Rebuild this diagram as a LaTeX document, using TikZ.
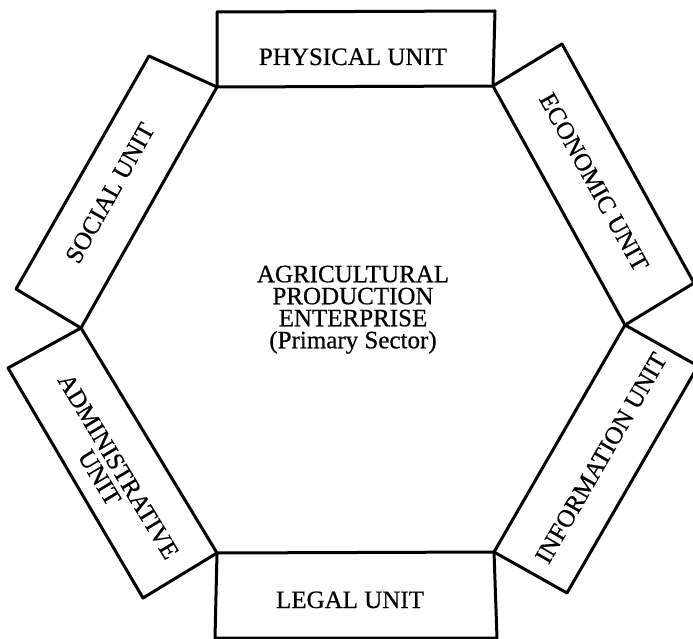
\documentclass[tikz,border=0pt]{standalone}
\usepackage{fontspec}
\setmainfont{Liberation Serif}[FakeBold=0.6]
\begin{document}
\begin{tikzpicture}[x=1pt, y=-1pt,
  frame/.style={draw, line width=3pt, line join=round},
  lbl/.style={font=\fontsize{25}{22}\selectfont, inner sep=0pt, align=center}]
\useasboundingbox (0,0) rectangle (693,639);
\clip (0,0) rectangle (693,639);

% corners of the central hexagon
\coordinate (A) at (217,87);   % top left
\coordinate (B) at (493,86);   % top right
\coordinate (C) at (625,325);  % right
\coordinate (D) at (494,552);  % bottom right
\coordinate (E) at (217,553);  % bottom left
\coordinate (F) at (81,328);   % left

% outer corners of the six unit boxes
\coordinate (phyL) at (217,12);  \coordinate (phyR) at (495,11);
\coordinate (ecoT) at (562,44);  \coordinate (ecoB) at (694,283);
\coordinate (infT) at (698,366); \coordinate (infB) at (567,593);
\coordinate (legR) at (497,638); \coordinate (legL) at (215,638);
\coordinate (admB) at (143,598); \coordinate (admT) at (8,368);
\coordinate (socB) at (16,289);  \coordinate (socT) at (149,56);

% hexagon
\draw[frame] (A) -- (B) -- (C) -- (D) -- (E) -- (F) -- cycle;

% unit boxes resting on the hexagon sides
\draw[frame] (A) -- (phyL) -- (phyR) -- (B);
\draw[frame] (B) -- (ecoT) -- (ecoB) -- (C);
\draw[frame] (C) -- (infT) -- (infB) -- (D);
\draw[frame] (D) -- (legR) -- (legL) -- (E);
\draw[frame] (E) -- (admB) -- (admT) -- (F);
\draw[frame] (F) -- (socB) -- (socT) -- (A);

% labels
\node[lbl, anchor=base] (physical) at (353,65) {PHYSICAL UNIT};
\node[lbl, anchor=base] (legal) at (350,608) {LEGAL UNIT};
\node[lbl, rotate=-61] (economic) at (594,182) {ECONOMIC UNIT};
\node[lbl, rotate=60] (information) at (601,458) {INFORMATION UNIT};
\node[lbl, rotate=-59] (administrative) at (109,472) {ADMINISTRATIVE\\UNIT};
\node[lbl, rotate=60.6] (social) at (110,193) {SOCIAL UNIT};

\node[lbl, anchor=north] (enterprise) at (353,265.5)
  {AGRICULTURAL\\PRODUCTION\\ENTERPRISE\\(Primary Sector)};
\end{tikzpicture}
\end{document}
